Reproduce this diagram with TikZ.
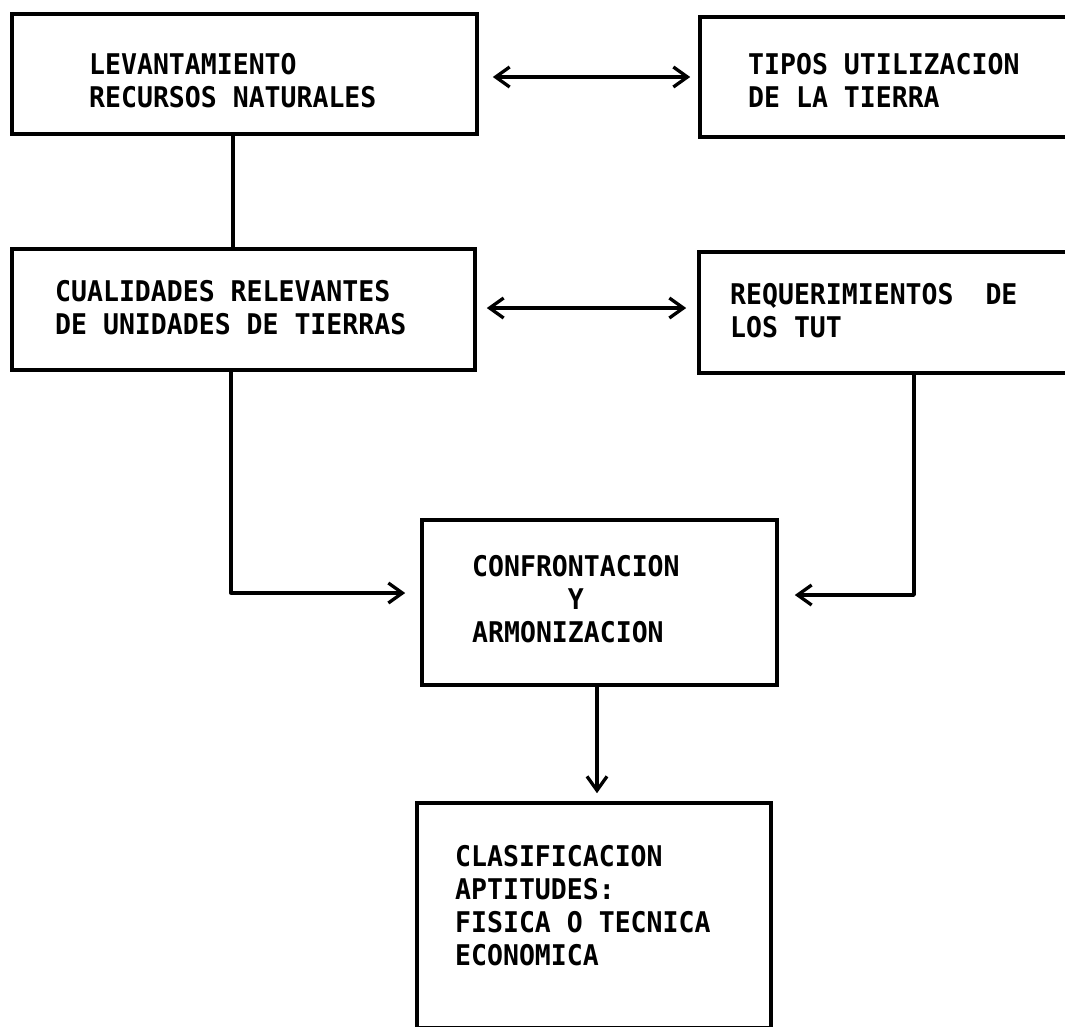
\documentclass[tikz,border=0pt]{standalone}
\usepackage{fontspec}
\newfontfamily\plotfont{DejaVu Sans Mono}[FakeStretch=0.93]
\usetikzlibrary{arrows.meta}
\begin{document}
\begin{tikzpicture}[x=1pt,y=-1pt,
  box/.style={draw, line width=3.6pt, rectangle, inner sep=0pt},
  label/.style={anchor=north west, inner sep=0pt, align=left,
    font=\plotfont\bfseries\fontsize{28.5}{33}\selectfont},
  link/.style={line width=3.3pt, line cap=round, line join=round},
  tip/.style={-{Straight Barb[length=14pt,width=20pt]}},
  both/.style={{Straight Barb[length=14pt,width=20pt]}-{Straight Barb[length=14pt,width=20pt]}}]
\useasboundingbox (0,0) rectangle (1065,1026);
\clip (0,0) rectangle (1065,1026);
\fill[white] (0,0) rectangle (1065,1026);

% boxes
\node[box, minimum width=465pt, minimum height=120pt] (b1) at (244.5,74) {};
\node[box, minimum width=385pt, minimum height=120pt] (b2) at (892.5,77) {};
\node[box, minimum width=463pt, minimum height=121pt] (b3) at (243.5,309.5) {};
\node[box, minimum width=386pt, minimum height=121pt] (b4) at (892,312.5) {};
\node[box, minimum width=355pt, minimum height=165pt] (b5) at (599.5,602.5) {};
\node[box, minimum width=354pt, minimum height=225pt] (b6) at (594,915.5) {};

% texts
\node[label] (t1) at (89,53) {LEVANTAMIENTO\\RECURSOS NATURALES};
\node[label] (t2) at (748,53) {TIPOS UTILIZACION\\DE LA TIERRA};
\node[label] (t3) at (55,280) {CUALIDADES RELEVANTES\\DE UNIDADES DE TIERRAS};
\node[label] (t4) at (730,283) {REQUERIMIENTOS\ \ DE\\LOS TUT};
\node[label] (t5) at (472,555) {CONFRONTACION\\\hphantom{CONFRO}Y\\ARMONIZACION};
\node[label] (t6) at (455,845) {CLASIFICACION\\APTITUDES:\\FISICA O TECNICA\\ECONOMICA};

% turning points of the connectors
\coordinate (c13) at (233,0);
\coordinate (cl) at (231,593);
\coordinate (cr) at (914,595);
\coordinate (cd) at (597,0);

% connectors
\draw[link, both, shorten <=14pt, shorten >=8pt]
  ([yshift=-3pt]b1.east) -- ([yshift=-3pt]b1.east -| b2.west);
\draw[link, both, shorten <=10pt, shorten >=11pt]
  ([yshift=1.5pt]b3.east) -- ([yshift=1.5pt]b3.east -| b4.west);
\draw[link] (b1.south -| c13) -- (b3.north -| c13);
\draw[link, tip, shorten >=15pt] (b3.south -| cl) -- (cl) -- (cl -| b5.west);
\draw[link, tip, shorten >=16pt] (b4.south -| cr) -- (cr) -- (cr -| b5.east);
\draw[link, tip, shorten >=8pt] (b5.south -| cd) -- (b6.north -| cd);
\end{tikzpicture}
\end{document}
